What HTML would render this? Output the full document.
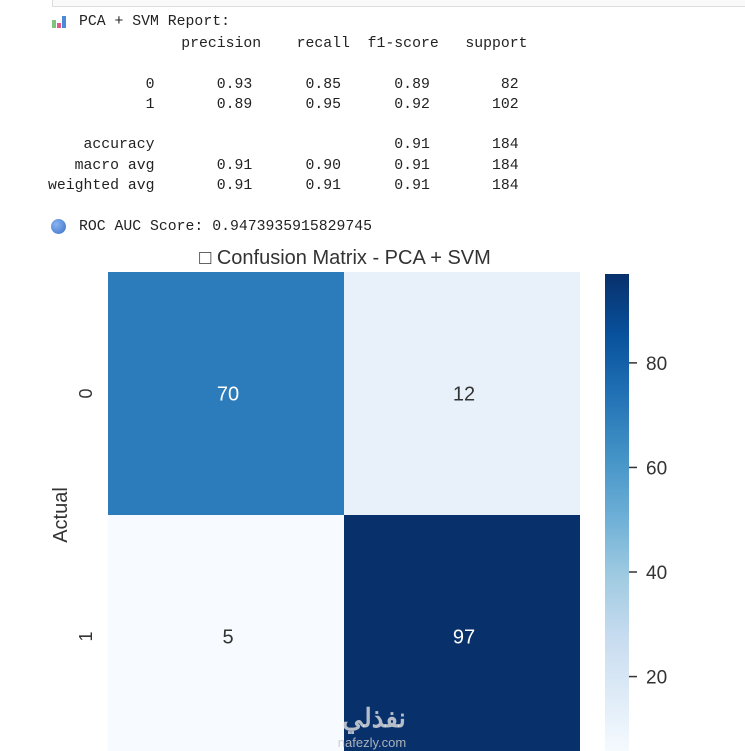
<!DOCTYPE html>
<html><head><meta charset="utf-8"><style>
body{margin:0;width:745px;height:751px;overflow:hidden;background:#fff;position:relative;font-family:"Liberation Sans",sans-serif}
pre{margin:0;position:absolute;left:48px;font-family:"Liberation Mono",monospace;font-size:14.8px;line-height:20.3px;color:#222}
</style></head><body>
<div style="position:absolute;left:52px;top:-2px;width:700px;height:7px;border:1px solid #ddd;background:#fafafa"></div>
<div style="position:absolute;left:52px;top:15px;width:14px;height:13px">
<div style="position:absolute;left:0;bottom:0;width:4px;height:8px;background:#7dc47f"></div>
<div style="position:absolute;left:5px;bottom:0;width:4px;height:5px;background:#e05a8a"></div>
<div style="position:absolute;left:10px;bottom:0;width:4px;height:12px;background:#4a8ad8"></div></div>
<pre style="top:12px;left:79px">PCA + SVM Report:</pre>
<pre style="top:34px">               precision    recall  f1-score   support

           0       0.93      0.85      0.89        82
           1       0.89      0.95      0.92       102

    accuracy                           0.91       184
   macro avg       0.91      0.90      0.91       184
weighted avg       0.91      0.91      0.91       184</pre>
<div style="position:absolute;left:51px;top:219px;width:15px;height:15px;border-radius:50%;background:radial-gradient(circle at 35% 35%,#8ab4f0,#3a6fc8)"></div>
<pre style="top:217px;left:79px">ROC AUC Score: 0.9473935915829745</pre>
<svg id="chart" width="745" height="751" style="position:absolute;left:0;top:0">
<defs><linearGradient id="cb" x1="0" y1="1" x2="0" y2="0">
<stop offset="0" stop-color="#f7fbff"/><stop offset="0.125" stop-color="#deebf7"/><stop offset="0.25" stop-color="#c6dbef"/><stop offset="0.375" stop-color="#9ecae1"/><stop offset="0.5" stop-color="#6baed6"/><stop offset="0.625" stop-color="#4292c6"/><stop offset="0.75" stop-color="#2171b5"/><stop offset="0.875" stop-color="#08519c"/><stop offset="1" stop-color="#08306b"/></linearGradient></defs>
<text x="345" y="264" text-anchor="middle" font-size="20" fill="#333">□ Confusion Matrix - PCA + SVM</text>
<text transform="translate(67,515) rotate(-90)" text-anchor="middle" font-size="20" fill="#333">Actual</text>
</svg>
<script>
const rowLabels=["0","1"];
const colLabels=["0","1"];
const matrix=[[70,12],[5,97]];
const cbTicks=[20,40,60,80];
const vmin=5,vmax=97;
const svg=document.getElementById('chart');
const NS='http://www.w3.org/2000/svg';
const x0=108,cw=236,y0=272,ch=243;
const blues=["#f7fbff","#deebf7","#c6dbef","#9ecae1","#6baed6","#4292c6","#2171b5","#08519c","#08306b"];
function hex(c){return [1,3,5].map(i=>parseInt(c.substr(i,2),16));}
function color(v){let t=Math.max(0,Math.min(1,(v-vmin)/(vmax-vmin)))*8;let i=Math.min(7,Math.floor(t)),f=t-i;const a=hex(blues[i]),b=hex(blues[i+1]);return 'rgb('+a.map((q,k)=>Math.round(q+(b[k]-q)*f)).join(',')+')';}
function mk(tag,attrs){const e=document.createElementNS(NS,tag);for(const k in attrs)e.setAttribute(k,attrs[k]);svg.appendChild(e);return e;}
const cbTop=274,cbBot=755,cbX=605,cbW=24;
function cy(v){return cbBot-(v-vmin)/(vmax-vmin)*(cbBot-cbTop);}
matrix.forEach((row,r)=>row.forEach((v,c)=>{
 const rect=mk('rect',{x:x0+c*cw,y:y0+r*ch,width:cw,height:ch,fill:color(v)});
 
 
 const t=mk('text',{x:x0+c*cw+cw/2+2,y:y0+r*ch+ch/2+7,'text-anchor':'middle','font-size':'20',fill:(v-vmin)/(vmax-vmin)>0.5?'#fff':'#333'});
 t.textContent=v;
 
 
}));
rowLabels.forEach((l,r)=>{
 const t=mk('text',{transform:'translate(92,'+(y0+r*ch+ch/2)+') rotate(-90)','text-anchor':'middle','font-size':'18',fill:'#333'});
 t.textContent=l;
 
 
});
const cb=mk('rect',{x:cbX,y:cbTop,width:cbW,height:cbBot-cbTop,fill:'url(#cb)'});


cbTicks.forEach(v=>{
 const y=cy(v);
 const l=mk('line',{x1:cbX+cbW,x2:cbX+cbW+8,y1:y,y2:y,stroke:'#333','stroke-width':'1.5'});
 
 
 const t=mk('text',{x:cbX+cbW+17,y:y+7,'font-size':'19',fill:'#333'});
 t.textContent=v;
 
 
});
const w1=mk('text',{x:374,y:727,'text-anchor':'middle','font-size':'26','font-weight':'bold',fill:'rgba(225,225,225,0.8)'});
w1.textContent='نفذلي';


const w2=mk('text',{x:372,y:747,'text-anchor':'middle','font-size':'13',fill:'rgba(200,200,200,0.85)'});
w2.textContent='nafezly.com';


</script>
</body></html>
